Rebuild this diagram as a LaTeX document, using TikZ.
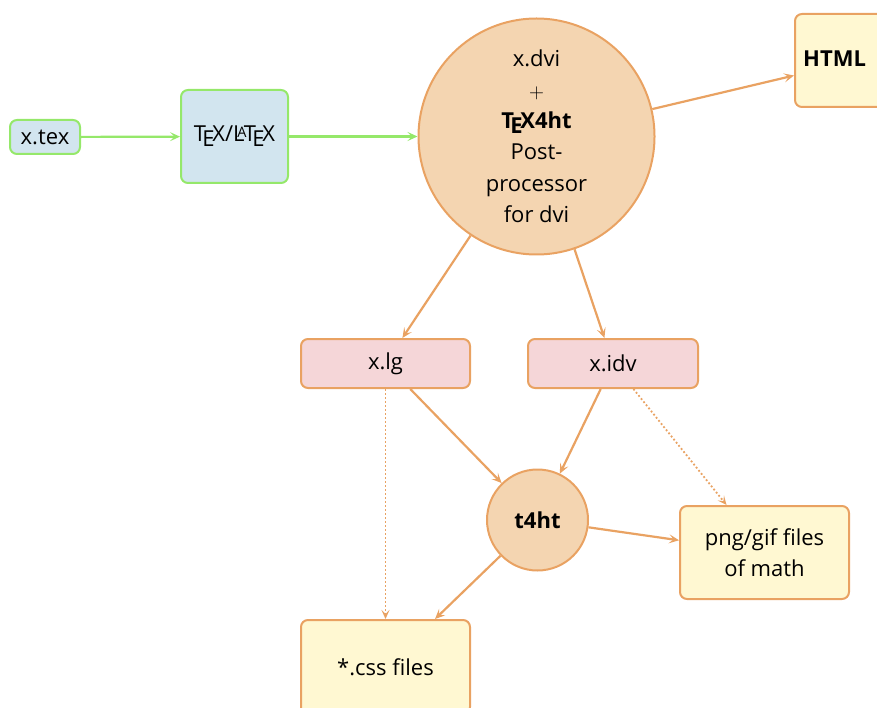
\documentclass[tikz,border=0pt]{standalone}
\usepackage{fontspec}
\setmainfont{Open Sans}
\usetikzlibrary{arrows.meta}
\definecolor{gline}{HTML}{95E86A}
\definecolor{bfill}{HTML}{D2E5EF}
\definecolor{oline}{HTML}{E9A262}
\definecolor{cfill}{HTML}{F4D5B1}
\definecolor{pfill}{HTML}{F5D6D8}
\definecolor{yfill}{HTML}{FFF8D2}
\newcommand{\sfTeX}{T\kern-.17em\lower.45ex\hbox{E}\kern-.1em X}
\newcommand{\sfLaTeX}{L\kern-.33em\raise.32ex\hbox{\fontsize{14.5}{14.5}\selectfont A}\kern-.12em\sfTeX}
\begin{document}
\begin{tikzpicture}[x=1pt,y=-1pt,
  every node/.style={font=\fontsize{22}{31.5}\selectfont, align=center, inner sep=0pt},
  gbox/.style={draw=gline, line width=2pt, fill=bfill, rounded corners=7pt},
  obox/.style={draw=oline, line width=2pt, rounded corners=7pt},
  ocirc/.style={draw=oline, line width=2pt, fill=cfill, circle},
  garrow/.style={draw=gline, line width=2.2pt, -{Stealth[length=10pt,width=9pt,inset=4.5pt]}},
  oarrow/.style={draw=oline, line width=2.2pt, -{Stealth[length=10pt,width=9pt,inset=4.5pt]}},
  odot/.style={draw=oline, line width=1.8pt, dash pattern=on 1.8pt off 2.2pt, -{Stealth[length=9pt,width=8pt,inset=4pt]}}]
\useasboundingbox (0,0) rectangle (877,708);
\clip (0,0) rectangle (877,708);
\node[gbox, minimum width=70pt, minimum height=34pt] (xtex) at (45,137) {x.tex};
\node[gbox, minimum width=107pt, minimum height=93pt] (tex) at (234.5,136.5) {\sfTeX/\sfLaTeX};
\node[ocirc, minimum size=236pt] (dvi) at (536.5,136.5) {x.dvi\\[1pt]$+$\\[-2pt]\textbf{\sfTeX4ht}\\Post-\\processor\\for dvi};
\node[obox, fill=yfill, minimum width=125pt, minimum height=93pt] (html) at (857.5,60.5) {};
\node[font=\fontsize{22}{31}\selectfont\bfseries, anchor=west] (htmltext) at (803,59) {HTML};
\node[obox, fill=pfill, minimum width=169pt, minimum height=49pt] (xlg) at (385.5,363.5) {x.lg};
\node[obox, fill=pfill, minimum width=170pt, minimum height=49pt] (xidv) at (613,363.5) {x.idv};
\node[ocirc, minimum size=101pt] (t4ht) at (537.5,520) {\textbf{t4ht}};
\node[obox, fill=yfill, minimum width=169pt, minimum height=93pt] (png) at (764.5,552.5) {png/gif files\\of math};
\node[obox, fill=yfill, minimum width=169pt, minimum height=94pt] (css) at (385.5,667) {*.css files};
\draw[garrow] (xtex) -- (tex);
\draw[garrow] (tex) -- (dvi);
\draw[oarrow] (dvi) -- (html);
\draw[oarrow] (dvi) -- (xlg);
\draw[oarrow] (dvi) -- (xidv);
\draw[oarrow] (xlg) -- (t4ht);
\draw[oarrow] (xidv) -- (t4ht);
\draw[oarrow] (t4ht) -- (png);
\draw[oarrow] (t4ht) -- (css);
\draw[odot] (xlg) -- (css);
\draw[odot] (xidv) -- (png);
\end{tikzpicture}
\end{document}
